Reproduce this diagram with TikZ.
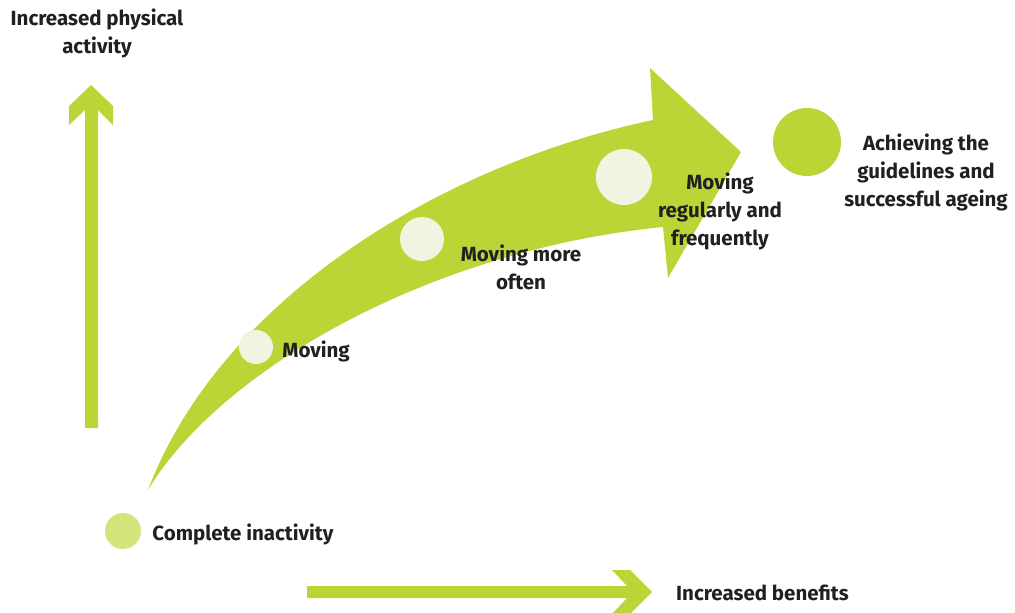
\documentclass[tikz,border=0pt]{standalone}
\usepackage{fontspec}
\setmainfont{Fira Sans}
\usetikzlibrary{positioning}
\definecolor{lime}{HTML}{BAD636}
\definecolor{pale}{HTML}{F0F5E1}
\definecolor{faded}{HTML}{D3E47A}
\definecolor{ink}{HTML}{231F20}
\tikzset{
	lbl/.style={text=ink,inner sep=0pt,align=center,font=\bfseries\fontsize{20.5}{28}\selectfont},
	dot/.style={circle,fill=#1,inner sep=0pt},
}
\begin{document}
\begin{tikzpicture}[x=1pt,y=-1pt]
	\useasboundingbox (0,0) rectangle (1015,613);
	% axes
	\fill[lime] (91,85)--(113,106)--(113,125)--(98,110)--(98,428)--(85,428)--(85,110)--(69,125)--(69,106)--cycle;
	\fill[lime] (652,592)--(630,570)--(612,570)--(627,586)--(307,586)--(307,598)--(627,598)--(612,614)--(630,614)--cycle;
	% the big curved arrow
	\fill[lime] (148,490) .. controls (220,300) and (440,165) .. (653,120)
		--(650,68)--(741,152)--(668,278)--(663,227)
		.. controls (430,250) and (220,370) .. (148,490)--cycle;
	% stages
	\node[dot=faded,minimum size=36pt] (inactive) at (123,531) {};
	\node[dot=pale,minimum size=34pt] (moving) at (256,347) {};
	\node[dot=pale,minimum size=44pt] (often) at (422,239) {};
	\node[dot=pale,minimum size=56pt] (regular) at (624,177) {};
	\node[dot=lime,minimum size=68pt] (ageing) at (807,142) {};
	% labels
	\node[lbl,anchor=south] (yaxis) at (97,58) {Increased physical\\activity};
	\node[lbl,anchor=west] (xaxis) at (676,593) {Increased benefits};
	\node[lbl,right=11pt of inactive,yshift=-3pt] (inactivetxt) {Complete inactivity};
	\node[lbl,right=9pt of moving,yshift=-4pt] (movingtxt) {Moving};
	\node[lbl] (oftentxt) at (521,267) {Moving more\\often};
	\node[lbl] (regulartxt) at (720,211) {Moving\\regularly and\\frequently};
	\node[lbl] (ageingtxt) at (926,172) {Achieving the\\guidelines and\\successful ageing};
\end{tikzpicture}
\end{document}
